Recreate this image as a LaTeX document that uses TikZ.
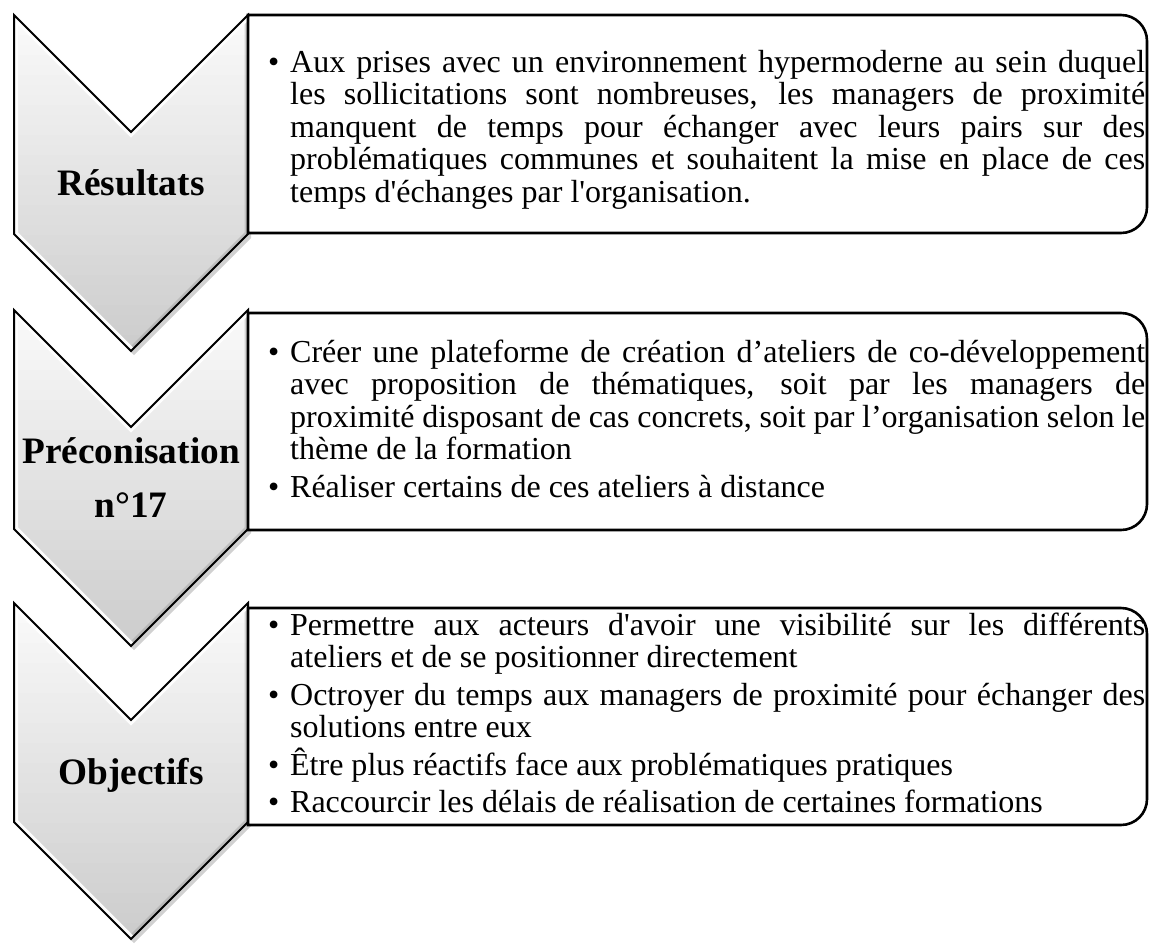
\documentclass[tikz,border=0pt]{standalone}
\usepackage{fontspec}
\setmainfont{Liberation Serif}[Ligatures=TeXOff]
\newcommand\chevpath[1]{(14,#1) -- (131,#1+117) -- (248,#1) -- (248,#1+219) -- (131,#1+336) -- (14,#1+219) -- cycle}
\newcommand\boxpath[2]{(248,#1) -- (1121,#1) .. controls (1135.4,#1) and (1147,#1+11.6) .. (1147,#1+26) -- (1147,#2-26) .. controls (1147,#2-11.6) and (1135.4,#2) .. (1121,#2) -- (248,#2) -- cycle}
\newcommand\bitem{\par\hangindent=22pt\hangafter=1\noindent\makebox[22pt][l]{•}}
\newcommand\bsep{\par\vskip 5pt\relax}
\newcommand\bodyset{\fontsize{32}{32.5}\selectfont\tolerance=9999\hyphenpenalty=10000\hbadness=10000\parindent=0pt}
\tikzset{
  chevshadow/.style={fill=black, opacity=0.18},
  chevbevel/.style={draw=white, line width=8pt, opacity=0.95},
  chevdark/.style={draw=black!45, line width=7pt, opacity=0.35},
  chevline/.style={draw=black, line width=2pt, line join=miter},
  boxline/.style={draw=black, fill=white, line width=2.6pt, line join=miter},
  bodytext/.style={anchor=base west, inner sep=0pt},
  lab/.style={anchor=base, inner sep=0pt, font=\fontsize{37.3}{40}\selectfont\bfseries}
}
\begin{document}
\begin{tikzpicture}[x=1pt,y=-1pt]
\useasboundingbox (0,0) rectangle (1150,943);
\foreach \t in {15,310,603}{
  \fill[chevshadow, shift={(3,4)}] \chevpath{\t};
  \begin{scope}
    \clip \chevpath{\t};
    \foreach \i in {0,...,34}{
      \pgfmathsetmacro{\g}{2+0.55*\i}
      \fill[black!\g!white] (14,\t+10*\i) rectangle (248,\t+10*\i+11);
    }
    \draw[chevdark] (248,\t) -- (248,\t+219) -- (131,\t+336);
    \draw[chevbevel] (131,\t+336) -- (14,\t+219) -- (14,\t) -- (131,\t+117) -- (248,\t);
  \end{scope}
  \draw[chevline] \chevpath{\t};
}
\draw[boxline] \boxpath{15}{233};
\draw[boxline] \boxpath{313}{530};
\draw[boxline] \boxpath{608}{825};

\node[lab] (res) at (131,195) {Résultats};
\node[lab] (prec) at (131,463) {\parbox[t]{234pt}{\centering\fontsize{37.3}{54}\selectfont\bfseries Préconisation\\n°17}};
\node[lab] (obj) at (131,784) {Objectifs};

\node[bodytext] (t1) at (268,72) {\parbox[t]{877pt}{\bodyset
\bitem Aux prises avec un environnement hypermoderne au sein duquel\linebreak
les sollicitations sont nombreuses, les managers de proximité\linebreak
manquent de temps pour échanger avec leurs pairs sur des\linebreak
problématiques communes et souhaitent la mise en place de ces\linebreak
temps d'échanges par l'organisation.\par}};

\node[bodytext] (t2) at (268,362) {\parbox[t]{877pt}{\bodyset
\bitem Créer une plateforme de création d’ateliers de co-développement\linebreak
avec proposition de thématiques, soit par les managers de\linebreak
proximité disposant de cas concrets, soit par l’organisation selon le\linebreak
thème de la formation\bsep
\bitem Réaliser certains de ces ateliers à distance\par}};

\node[bodytext] (t3) at (268,635) {\parbox[t]{877pt}{\bodyset
\bitem Permettre aux acteurs d'avoir une visibilité sur les différents\linebreak
ateliers et de se positionner directement\bsep
\bitem Octroyer du temps aux managers de proximité pour échanger des\linebreak
solutions entre eux\bsep
\bitem Être plus réactifs face aux problématiques pratiques\bsep
\bitem Raccourcir les délais de réalisation de certaines formations\par}};
\end{tikzpicture}
\end{document}
